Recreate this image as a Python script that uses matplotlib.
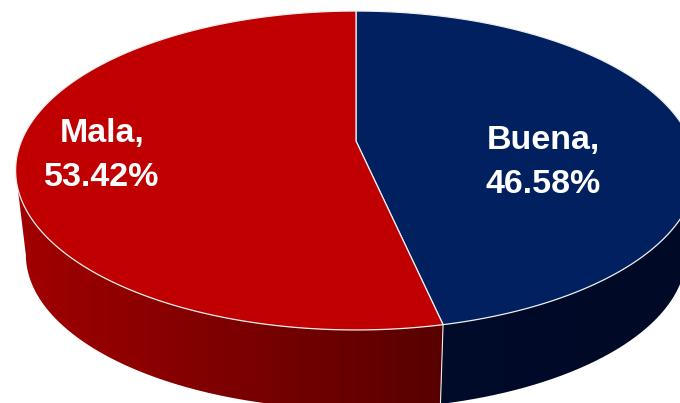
import numpy as np
import matplotlib
matplotlib.use("Agg")
import matplotlib.pyplot as plt
from matplotlib.path import Path
from matplotlib.patches import PathPatch

# datos
labels = ["Buena", "Mala"]
values = [46.58, 53.42]
top_colors = ["#002060", "#C00000"]
side_left = ["#000B2A", "#A20000"]
side_right = ["#000A26", "#580000"]

W, H = 680, 403
plt.rcParams["font.family"] = ["Liberation Sans", "DejaVu Sans"]

# proyeccion del circulo a la elipse con perspectiva
CX, CY = 356, 141
A, B, K = 334.5, 154.0, 0.185
EY = 170      # centro real de la elipse
SHRINK = 0.97 # la base se ve un poco mas chica
DEPTH = 84
EDGE = "#EDEDED"


def project(ang):
    # ang en radianes, horario desde arriba
    x = np.sin(ang)
    v = np.cos(ang)
    w = 1 + K * v
    return CX + x * A / w, CY - B * v / w


def project_base(ang):
    x, y = project(ang)
    return CX + (x - CX) * SHRINK, EY + (y - EY) * SHRINK + DEPTH


fig = plt.figure(figsize=(W / 100, H / 100), dpi=100)
ax = fig.add_axes([0, 0, 1, 1])
ax.set_xlim(0, W)
ax.set_ylim(H, 0)
ax.axis("off")

fracs = np.cumsum([0] + values) / sum(values) * 2 * np.pi

# lado con degradado
for i in range(2):
    t = np.linspace(fracs[i], fracs[i + 1], 400)
    t = t[np.cos(t) < -0.18]
    x, y = project(t)
    x2, y2 = project_base(t[::-1])
    verts = np.column_stack([np.r_[x, x2], np.r_[y, y2]])
    poly = PathPatch(Path(np.vstack([verts, verts[0]])), fc="none", ec="none")
    ax.add_patch(poly)
    c0 = np.array(matplotlib.colors.to_rgb(side_left[i]))
    c1 = np.array(matplotlib.colors.to_rgb(side_right[i]))
    x_lo, x_hi = verts[:, 0].min(), verts[:, 0].max()
    grad = np.linspace(0, 1, 256)[None, :, None]
    img = c0 + (c1 - c0) * grad
    im = ax.imshow(img, extent=[x_lo, x_hi, H + 100, 0], aspect="auto", zorder=1)
    im.set_clip_path(poly)

ax.set_xlim(0, W)
ax.set_ylim(H, 0)

# cara superior
for i in range(2):
    t = np.linspace(fracs[i], fracs[i + 1], 400)
    x, y = project(t)
    ax.fill(np.r_[CX, x], np.r_[CY, y], fc=top_colors[i], ec=EDGE, lw=0.9,
            joinstyle="round", zorder=2)

# borde vertical entre las dos caras del lado
x_s, y_s = project(fracs[1])
x_b, y_b = project_base(fracs[1])
ax.plot([x_s, x_b], [y_s, y_b], color=EDGE, lw=0.8, zorder=3)

# etiquetas, linea por linea
for name, val, xc, y1, y2 in [(labels[1], values[1], 102, 142, 186),
                              (labels[0], values[0], 543, 149, 193)]:
    ax.text(xc, y1, name + ",", color="white", fontsize=24.5, fontweight="bold",
            ha="center", va="baseline", zorder=4)
    ax.text(xc, y2, "%.2f%%" % val, color="white", fontsize=24.5, fontweight="bold",
            ha="center", va="baseline", zorder=4)

fig.savefig("out.png", dpi=100)
